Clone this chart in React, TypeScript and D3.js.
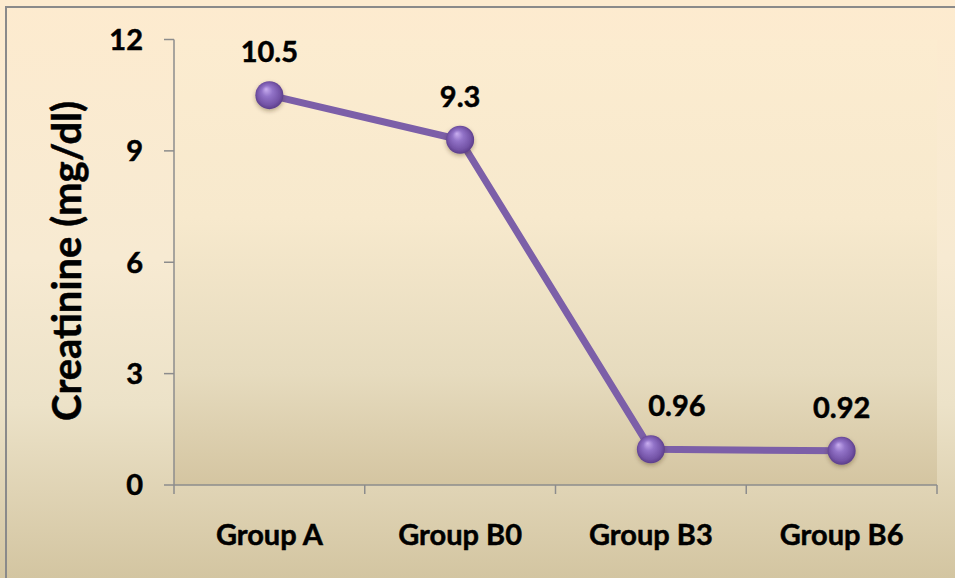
import React from "react";
import * as d3 from "d3";

// Serum creatinine per group
const groups = ["Group A", "Group B0", "Group B3", "Group B6"];
const creatinine = [10.5, 9.3, 0.96, 0.92];
const valueLabels = ["10.5", "9.3", "0.96", "0.92"];
const yTicks = [0, 3, 6, 9, 12];

const W = 955;
const H = 578;
const FONT = "Lato, 'Open Sans', sans-serif";

// heavy bold text used for all labels
const boldText = {
  fontWeight: "bold" as const,
  fill: "#000",
  stroke: "#000",
  strokeWidth: 0.5,
};

export default function App() {
  const plot = { left: 174, right: 937, top: 39.5, bottom: 485 };

  const x = d3.scaleBand<string>().domain(groups).range([plot.left, plot.right]).padding(0);
  const y = d3.scaleLinear().domain([0, 12]).range([plot.bottom, plot.top]);
  const cx = (g: string) => (x(g) ?? 0) + x.bandwidth() / 2;

  const line = d3
    .line<number>()
    .x((_, i) => cx(groups[i]))
    .y((d) => y(d));

  const boundaries = d3.range(groups.length + 1).map((i) => plot.left + i * x.bandwidth());

  return (
    <svg
      width={W}
      height={H}
      style={{ position: "absolute", left: 0, top: 0, display: "block" }}
      fontFamily={FONT}
    >
      <defs>
        <linearGradient id="outerBg" x1="0" y1="0" x2="0" y2="1">
          <stop offset="0%" stopColor="#fdebcf" />
          <stop offset="45%" stopColor="#f7ead2" />
          <stop offset="70%" stopColor="#ece2c8" />
          <stop offset="100%" stopColor="#d3c5a1" />
        </linearGradient>
        <linearGradient id="plotBg" x1="0" y1="0" x2="0" y2="1">
          <stop offset="0%" stopColor="#fcecd0" />
          <stop offset="40%" stopColor="#f7e9cd" />
          <stop offset="75%" stopColor="#e6dbbe" />
          <stop offset="100%" stopColor="#d4c5a1" />
        </linearGradient>
        <radialGradient id="sphere" cx="50%" cy="50%" r="55%" fx="38%" fy="28%">
          <stop offset="0%" stopColor="#c9aef0" />
          <stop offset="35%" stopColor="#9273c8" />
          <stop offset="75%" stopColor="#7353a6" />
          <stop offset="100%" stopColor="#54367f" />
        </radialGradient>
        <filter id="markerShadow" x="-50%" y="-50%" width="200%" height="200%">
          <feDropShadow dx="0" dy="2" stdDeviation="2" floodColor="#3a2a10" floodOpacity="0.35" />
        </filter>
      </defs>

      {/* chart area background and frame */}
      <rect x={0} y={0} width={W} height={H} fill="url(#outerBg)" />
      <rect x={6} y={7} width={W + 10} height={H + 10} fill="none" stroke="#8a8a8a" strokeWidth={2} />

      {/* plot area */}
      <rect
        x={plot.left}
        y={plot.top}
        width={plot.right - plot.left}
        height={plot.bottom - plot.top}
        fill="url(#plotBg)"
      />

      {/* y axis */}
      <line x1={plot.left} x2={plot.left} y1={plot.top} y2={plot.bottom} stroke="#8c8c8c" strokeWidth={1.5} />
      {yTicks.map((t) => (
        <g key={t}>
          <line x1={plot.left - 10} x2={plot.left} y1={y(t)} y2={y(t)} stroke="#8c8c8c" strokeWidth={1.5} />
          <text
            x={plot.left - 31}
            y={y(t)}
            dy="0.36em"
            textAnchor="end"
            fontSize={29}
            {...boldText}
          >
            {t}
          </text>
        </g>
      ))}

      {/* x axis */}
      <line x1={plot.left} x2={plot.right} y1={plot.bottom} y2={plot.bottom} stroke="#8c8c8c" strokeWidth={1.5} />
      {boundaries.map((bx, i) => (
        <line key={i} x1={bx} x2={bx} y1={plot.bottom} y2={plot.bottom + 9} stroke="#8c8c8c" strokeWidth={1.5} />
      ))}
      {groups.map((g) => (
        <text key={g} x={cx(g)} y={545} textAnchor="middle" fontSize={29} {...boldText}>
          {g}
        </text>
      ))}

      {/* y axis title */}
      <text
        transform={`translate(81, 261) rotate(-90)`}
        textAnchor="middle"
        fontSize={40}
        {...boldText}
      >
        Creatinine (mg/dl)
      </text>

      {/* series */}
      <path
        d={line(creatinine) ?? ""}
        fill="none"
        stroke="#7c5fa8"
        strokeWidth={7}
        strokeLinejoin="round"
      />
      {creatinine.map((v, i) => (
        <circle
          key={i}
          cx={cx(groups[i])}
          cy={y(v)}
          r={14}
          fill="url(#sphere)"
          filter="url(#markerShadow)"
        />
      ))}

      {/* data labels */}
      {creatinine.map((v, i) => (
        <text
          key={i}
          x={cx(groups[i]) + (i === 2 ? 26 : 0)}
          y={y(v) - 33}
          textAnchor="middle"
          fontSize={29}
          {...boldText}
        >
          {valueLabels[i]}
        </text>
      ))}
    </svg>
  );
}
